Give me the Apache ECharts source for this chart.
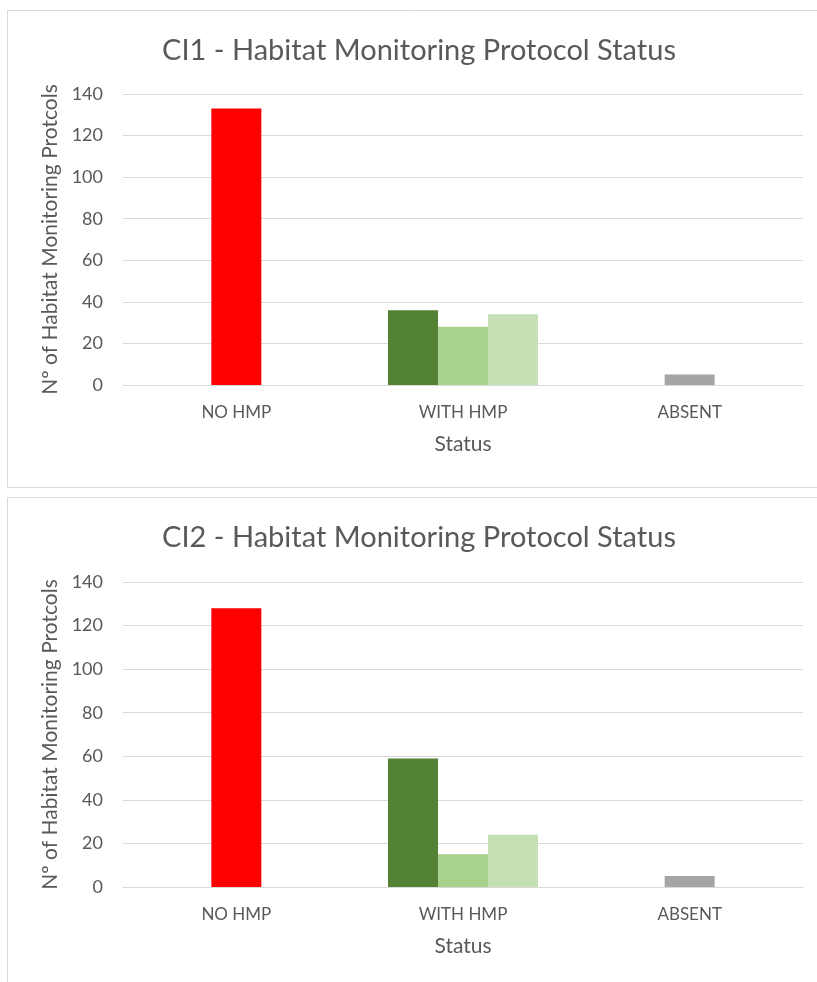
<!DOCTYPE html>
<html>
<head>
<meta charset="utf-8">
<script src="https://cdn.jsdelivr.net/npm/echarts@6/dist/echarts.min.js"></script>
<style>
  html, body { margin: 0; padding: 0; background: #ffffff; }
  #chart { width: 817px; height: 982px; }
</style>
</head>
<body>
<div id="chart"></div>
<script>
// Protocol status categories
const categories = ['NO HMP', 'WITH HMP', 'ABSENT'];

// CI1 counts: three bar slots per category (left, centre, right)
const ci1Left   = [null, 36, null];
const ci1Centre = [133, 28, 5];
const ci1Right  = [null, 34, null];

// CI2 counts
const ci2Left   = [null, 59, null];
const ci2Centre = [128, 15, 5];
const ci2Right  = [null, 24, null];

const yTicks = [0, 20, 40, 60, 80, 100, 120, 140];

const titles = ['CI1 - Habitat Monitoring Protocol Status', 'CI2 - Habitat Monitoring Protocol Status'];

const FONT = 'Lato, "Open Sans", sans-serif';
const TXT = '#595959';
const colLeft = '#548235';
const colCentre = ['#FF0000', '#A9D18E', '#A5A5A5'];
const colRight = '#C5E0B4';

const chart = echarts.init(document.getElementById('chart'), null, { renderer: 'canvas' });

const grids = [
  { left: 123, right: 14, top: 94, height: 291 },
  { left: 123, right: 14, top: 582, height: 305 }
];

function xAxis(i) {
  return {
    type: 'category', gridIndex: i, data: categories,
    name: 'Status', nameLocation: 'middle', nameGap: 49,
    nameTextStyle: { color: TXT, fontFamily: FONT, fontSize: 21 },
    axisLine: { lineStyle: { color: '#D9D9D9' } },
    axisTick: { show: false },
    axisLabel: { color: TXT, fontFamily: FONT, fontSize: 17, margin: 19 }
  };
}
function yAxis(i) {
  return {
    type: 'value', gridIndex: i, min: yTicks[0], max: yTicks[yTicks.length - 1], interval: 20,
    name: 'Nº of Habitat Monitoring Protcols', nameLocation: 'middle', nameGap: 46,
    nameTextStyle: { color: TXT, fontFamily: FONT, fontSize: 21 },
    axisLine: { show: false }, axisTick: { show: false },
    axisLabel: { color: TXT, fontFamily: FONT, fontSize: 18, margin: 20 },
    splitLine: { lineStyle: { color: '#D9D9D9', width: 1 } }
  };
}
function bars(i, left, centre, right) {
  const common = { type: 'bar', xAxisIndex: i, yAxisIndex: i, barWidth: 50, barGap: '0%', silent: true };
  return [
    Object.assign({}, common, { data: left, itemStyle: { color: colLeft } }),
    Object.assign({}, common, { data: centre.map((v, k) => ({ value: v, itemStyle: { color: colCentre[k] } })) }),
    Object.assign({}, common, { data: right, itemStyle: { color: colRight } })
  ];
}

chart.setOption({
  animation: false,
  backgroundColor: '#ffffff',
  graphic: [
    { type: 'rect', shape: { x: 7.5, y: 10.5, width: 830, height: 477 },
      style: { fill: 'none', stroke: '#D9D9D9', lineWidth: 1 } },
    { type: 'rect', shape: { x: 7.5, y: 497.5, width: 830, height: 500 },
      style: { fill: 'none', stroke: '#D9D9D9', lineWidth: 1 } }
  ],
  title: [
    { text: titles[0], left: 414, top: 31, textAlign: 'center',
      textStyle: { color: TXT, fontFamily: FONT, fontSize: 29, fontWeight: 'normal' } },
    { text: titles[1], left: 414, top: 518, textAlign: 'center',
      textStyle: { color: TXT, fontFamily: FONT, fontSize: 29, fontWeight: 'normal' } }
  ],
  grid: grids,
  xAxis: [xAxis(0), xAxis(1)],
  yAxis: [yAxis(0), yAxis(1)],
  series: [].concat(bars(0, ci1Left, ci1Centre, ci1Right), bars(1, ci2Left, ci2Centre, ci2Right))
});
</script>
</body>
</html>
